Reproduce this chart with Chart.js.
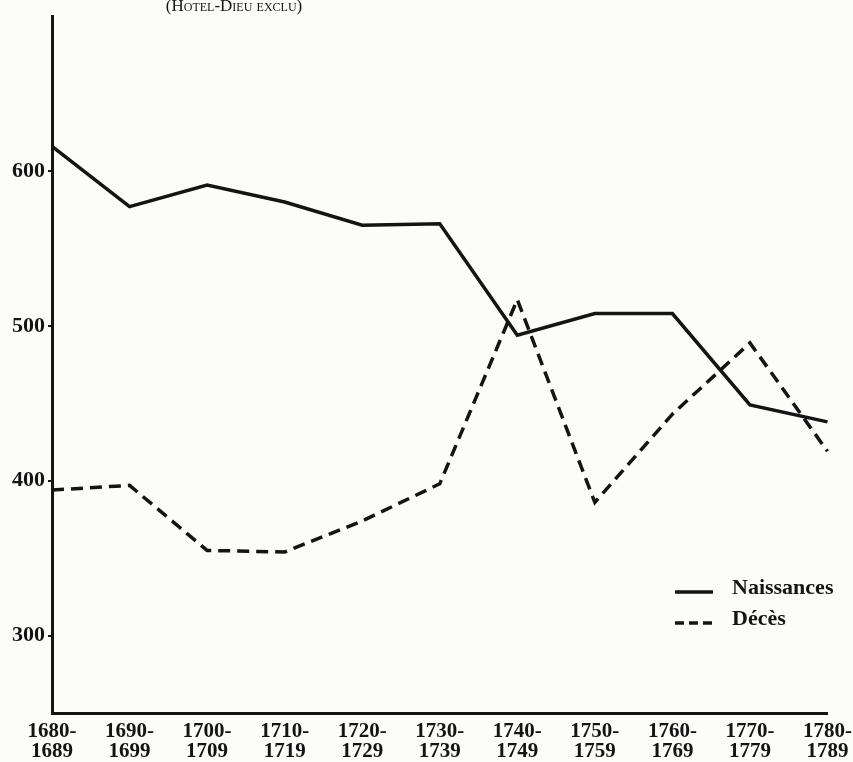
<!DOCTYPE html>
<html>
<head>
<meta charset="utf-8">
<script src="https://cdn.jsdelivr.net/npm/chart.js@4/dist/chart.umd.min.js"></script>
<style>
  html, body { margin: 0; padding: 0; background: #fcfcfa; }
  #wrap { width: 853px; height: 762px; position: relative; }
</style>
</head>
<body>
<div id="wrap"><canvas id="chart" width="853" height="762"></canvas></div>
<script>
// --- données ---
const decennies = [
  ['1680-', '1689'], ['1690-', '1699'], ['1700-', '1709'], ['1710-', '1719'],
  ['1720-', '1729'], ['1730-', '1739'], ['1740-', '1749'], ['1750-', '1759'],
  ['1760-', '1769'], ['1770-', '1779'], ['1780-', '1789']
];
const naissances = [616, 577, 591, 580, 565, 566, 494, 508, 508, 449, 438];
const deces = [394, 397, 355, 354, 374, 398, 517, 386, 443, 489, 419];
const yTicks = [300, 400, 500, 600];
const yMin = 250;
const yMax = 700;
const titre = '(Hotel-Dieu exclu)';

const INK = '#141414';

// titre en petites capitales + légende dessinée dans la zone du graphique
const decorPlugin = {
  id: 'decor',
  afterDraw(chart) {
    const ctx = chart.ctx;
    ctx.save();
    ctx.fillStyle = INK;
    ctx.font = "17px 'Liberation Serif', serif";
    ctx.fontVariantCaps = 'small-caps';
    ctx.textAlign = 'center';
    ctx.textBaseline = 'middle';
    ctx.fillText(titre, 234, 7);
    ctx.fontVariantCaps = 'normal';

    // légende
    const items = chart.data.datasets;
    ctx.textAlign = 'left';
    ctx.textBaseline = 'alphabetic';
    ctx.font = "bold 22px 'Liberation Serif', serif";
    items.forEach((ds, i) => {
      const y = 592 + i * 31;
      ctx.strokeStyle = ds.borderColor;
      ctx.lineWidth = 3.5;
      ctx.setLineDash(i === 1 ? [9, 5] : []);
      ctx.beginPath();
      ctx.moveTo(675, y);
      ctx.lineTo(713, y);
      ctx.stroke();
      ctx.setLineDash([]);
      ctx.fillText(ds.label, 732, y + 2);
    });
    ctx.restore();
  }
};

new Chart(document.getElementById('chart'), {
  type: 'line',
  data: {
    labels: decennies,
    datasets: [
      {
        label: 'Naissances',
        data: naissances,
        borderColor: INK,
        borderWidth: 3.5,
        pointRadius: 0,
        tension: 0,
        fill: false
      },
      {
        label: 'Décès',
        data: deces,
        borderColor: INK,
        borderWidth: 3.5,
        borderDash: [12, 7],
        pointRadius: 0,
        tension: 0,
        fill: false
      }
    ]
  },
  options: {
    responsive: false,
    animation: false,
    devicePixelRatio: 1,
    layout: { padding: { top: 12, right: 25, left: 0, bottom: 0 } },
    plugins: {
      legend: { display: false },
      title: { display: false },
      tooltip: { enabled: false }
    },
    scales: {
      x: {
        type: 'category',
        offset: false,
        grid: { display: false },
        border: { display: true, color: INK, width: 3 },
        ticks: {
          color: INK,
          padding: 1,
          maxRotation: 0,
          autoSkip: false,
          font: { family: "'Liberation Serif', serif", size: 21, weight: 'bold', lineHeight: 0.95 }
        },
        afterFit(scale) { scale.height = 49; }
      },
      y: {
        min: yMin,
        max: yMax,
        grid: { drawOnChartArea: false, drawTicks: true, tickLength: 4, color: INK, lineWidth: 2 },
        border: { display: true, color: INK, width: 3 },
        afterBuildTicks(scale) { scale.ticks = yTicks.map(v => ({ value: v })); },
        ticks: {
          color: INK,
          padding: 3,
          font: { family: "'Liberation Serif', serif", size: 22, weight: 'bold' }
        },
        afterFit(scale) { scale.width = 52; }
      }
    }
  },
  plugins: [decorPlugin]
});
</script>
</body>
</html>
